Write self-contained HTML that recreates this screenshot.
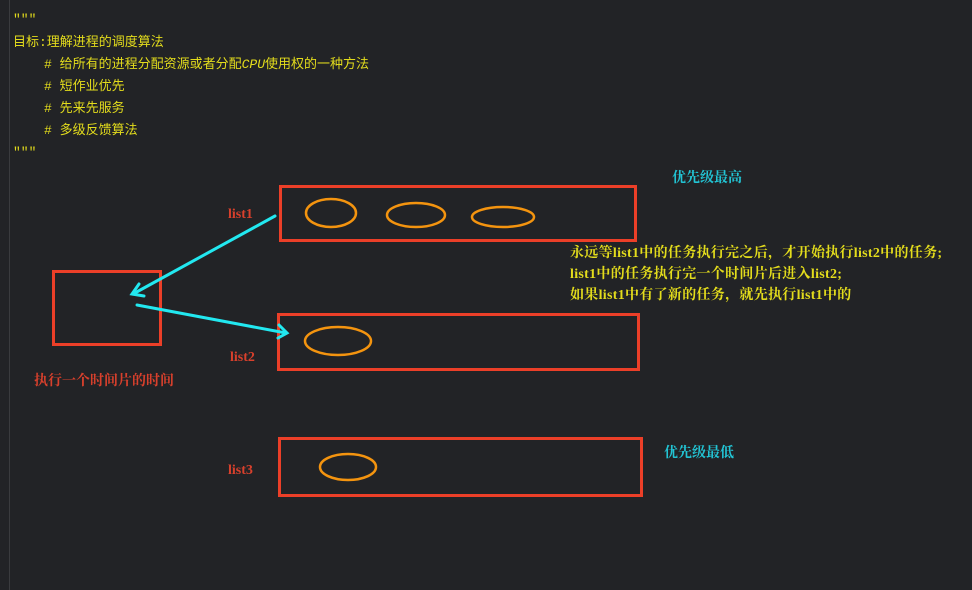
<!DOCTYPE html>
<html><head><meta charset="utf-8"><style>
body{margin:0;width:972px;height:590px;background:#222326;overflow:hidden;position:relative;font-family:"Liberation Mono","Noto Sans CJK SC",monospace}
.t{position:absolute;color:#e3dc1c;font-size:13px;white-space:nowrap;line-height:16px}
.b{font-family:"Liberation Serif","Noto Serif CJK SC",serif;font-weight:bold}
</style></head><body>
<div style="position:absolute;left:9px;top:0;width:1px;height:590px;background:#3a3b3e"></div>
<div class="t" style="left:13px;top:12px">"""</div>
<div class="t" style="left:13px;top:35px">目标:理解进程的调度算法</div>
<div class="t" style="left:44px;top:57px"># 给所有的进程分配资源或者分配<i>CPU</i>使用权的一种方法</div>
<div class="t" style="left:44px;top:79px"># 短作业优先</div>
<div class="t" style="left:44px;top:101px"># 先来先服务</div>
<div class="t" style="left:44px;top:123px"># 多级反馈算法</div>
<div class="t" style="left:13px;top:145px">"""</div>
<div class="t b" style="left:672px;top:171px;color:#22c4d4;font-size:14px">优先级最高</div>
<div class="t b" style="left:664px;top:446px;color:#22c4d4;font-size:14px">优先级最低</div>
<div class="t b" style="left:570px;top:246px;font-size:14px;letter-spacing:0.3px">永远等list1中的任务执行完之后，才开始执行list2中的任务;</div>
<div class="t b" style="left:570px;top:267px;font-size:14px;letter-spacing:0.3px">list1中的任务执行完一个时间片后进入list2;</div>
<div class="t b" style="left:570px;top:288px;font-size:14px;letter-spacing:0.3px">如果list1中有了新的任务，就先执行list1中的</div>
<div class="t b" style="left:228px;top:207px;color:#d8402c;font-size:14px">list1</div>
<div class="t b" style="left:230px;top:350px;color:#d8402c;font-size:14px">list2</div>
<div class="t b" style="left:228px;top:463px;color:#d8402c;font-size:14px">list3</div>
<div class="t b" style="left:34px;top:374px;color:#d8402c;font-size:14px">执行一个时间片的时间</div>
<svg width="972" height="590" style="position:absolute;left:0;top:0">
<g fill="none" stroke="#ec3f28" stroke-width="3">
<rect x="280.5" y="186.5" width="355" height="54"/>
<rect x="278.5" y="314.5" width="360" height="55"/>
<rect x="279.5" y="438.5" width="362" height="57"/>
<rect x="53.5" y="271.5" width="107" height="73"/>
</g>
<g fill="none" stroke="#f4940f" stroke-width="2.5">
<ellipse cx="331" cy="213" rx="25" ry="14"/>
<ellipse cx="416" cy="215" rx="29" ry="12"/>
<ellipse cx="503" cy="217" rx="31" ry="10"/>
<ellipse cx="338" cy="341" rx="33" ry="14"/>
<ellipse cx="348" cy="467" rx="28" ry="13"/>
</g>
<g fill="none" stroke="#22e8f0" stroke-width="3" stroke-linecap="round">
<line x1="275" y1="216" x2="133" y2="294"/>
<polyline points="139,284 132,294 144,296"/>
<line x1="137" y1="305" x2="286" y2="333"/>
<polyline points="279,325 287,333 278,338"/>
</g>
</svg>
</body></html>
